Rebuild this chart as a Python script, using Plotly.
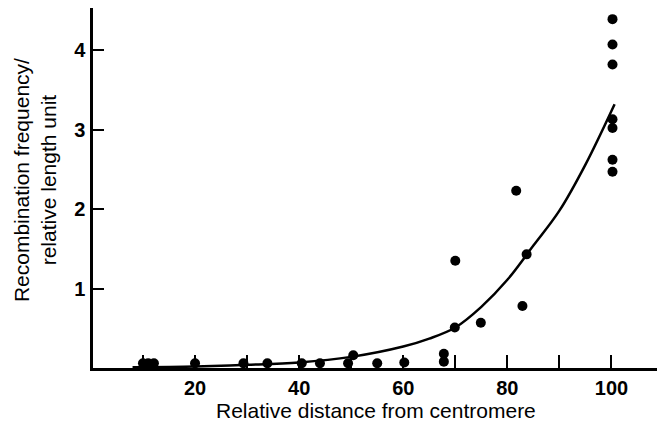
import plotly.graph_objects as go

# Observed data points (relative distance, recombination frequency per relative length unit)
pts_x = [10, 11, 12.1, 20, 29.3, 33.9, 40.5, 44, 49.4, 50.4, 55, 60.2,
         67.8, 67.8, 69.9, 70, 74.9, 81.7, 82.9, 83.7,
         100.2, 100.2, 100.2, 100.2, 100.2, 100.2, 100.2]
pts_y = [0.06, 0.06, 0.06, 0.06, 0.06, 0.06, 0.06, 0.06, 0.06, 0.16, 0.06, 0.07,
         0.18, 0.08, 0.51, 1.35, 0.57, 2.23, 0.78, 1.43,
         4.39, 4.07, 3.82, 3.13, 3.02, 2.62, 2.47]

# Fitted curve
curve_x = [8, 20, 30, 40, 50, 60, 65, 70, 75, 80, 85, 90, 95, 100.6]
curve_y = [0.01, 0.02, 0.04, 0.07, 0.14, 0.27, 0.37, 0.51, 0.77, 1.11, 1.54, 1.98, 2.56, 3.32]

x_ticks = [20, 40, 60, 80, 100]
x_minor = [10, 30, 50, 70, 90]
y_ticks = [1, 2, 3, 4]

fig = go.Figure()
fig.add_trace(go.Scatter(x=curve_x, y=curve_y, mode="lines", line_shape="spline",
                         line=dict(color="black", width=2.5), hoverinfo="skip"))
fig.add_trace(go.Scatter(x=pts_x, y=pts_y, mode="markers",
                         marker=dict(color="black", size=10)))

font = "Liberation Sans, Arial, Helvetica, sans-serif"
fig.update_layout(
    width=657, height=429,
    margin=dict(l=85, r=2, t=0, b=69),
    paper_bgcolor="white", plot_bgcolor="white",
    showlegend=False,
    font=dict(family=font, color="black"),
    xaxis=dict(range=[0.4, 109.9], tickvals=x_ticks, ticks="inside", ticklen=13,
               tickwidth=1.5, tickcolor="black",
               minor=dict(tickvals=x_minor, ticks="inside", ticklen=13, tickwidth=1.5,
                          tickcolor="black"),
               showline=True, linecolor="black", linewidth=2.5, showgrid=False,
               zeroline=False, ticklabelstandoff=0,
               tickfont=dict(size=20, family=font, weight="bold")),
    yaxis=dict(range=[0, 4.53], tickvals=y_ticks, ticks="inside", ticklen=11,
               tickwidth=1.5, tickcolor="black",
               showline=True, linecolor="black", linewidth=2.5, showgrid=False,
               zeroline=False, ticklabelstandoff=1,
               tickfont=dict(size=20, family=font, weight="bold")),
    annotations=[
        dict(text="Relative distance from centromere", xref="paper", yref="paper",
             x=0.497, y=0, yshift=-42, xanchor="center", yanchor="middle",
             showarrow=False, font=dict(size=21)),
        dict(text="Recombination frequency/<br>relative length unit", xref="paper",
             yref="paper", x=0, xshift=-58, y=0.522, xanchor="center", yanchor="middle",
             textangle=-90, showarrow=False, font=dict(size=21)),
    ],
)

fig.write_html("out.html")
